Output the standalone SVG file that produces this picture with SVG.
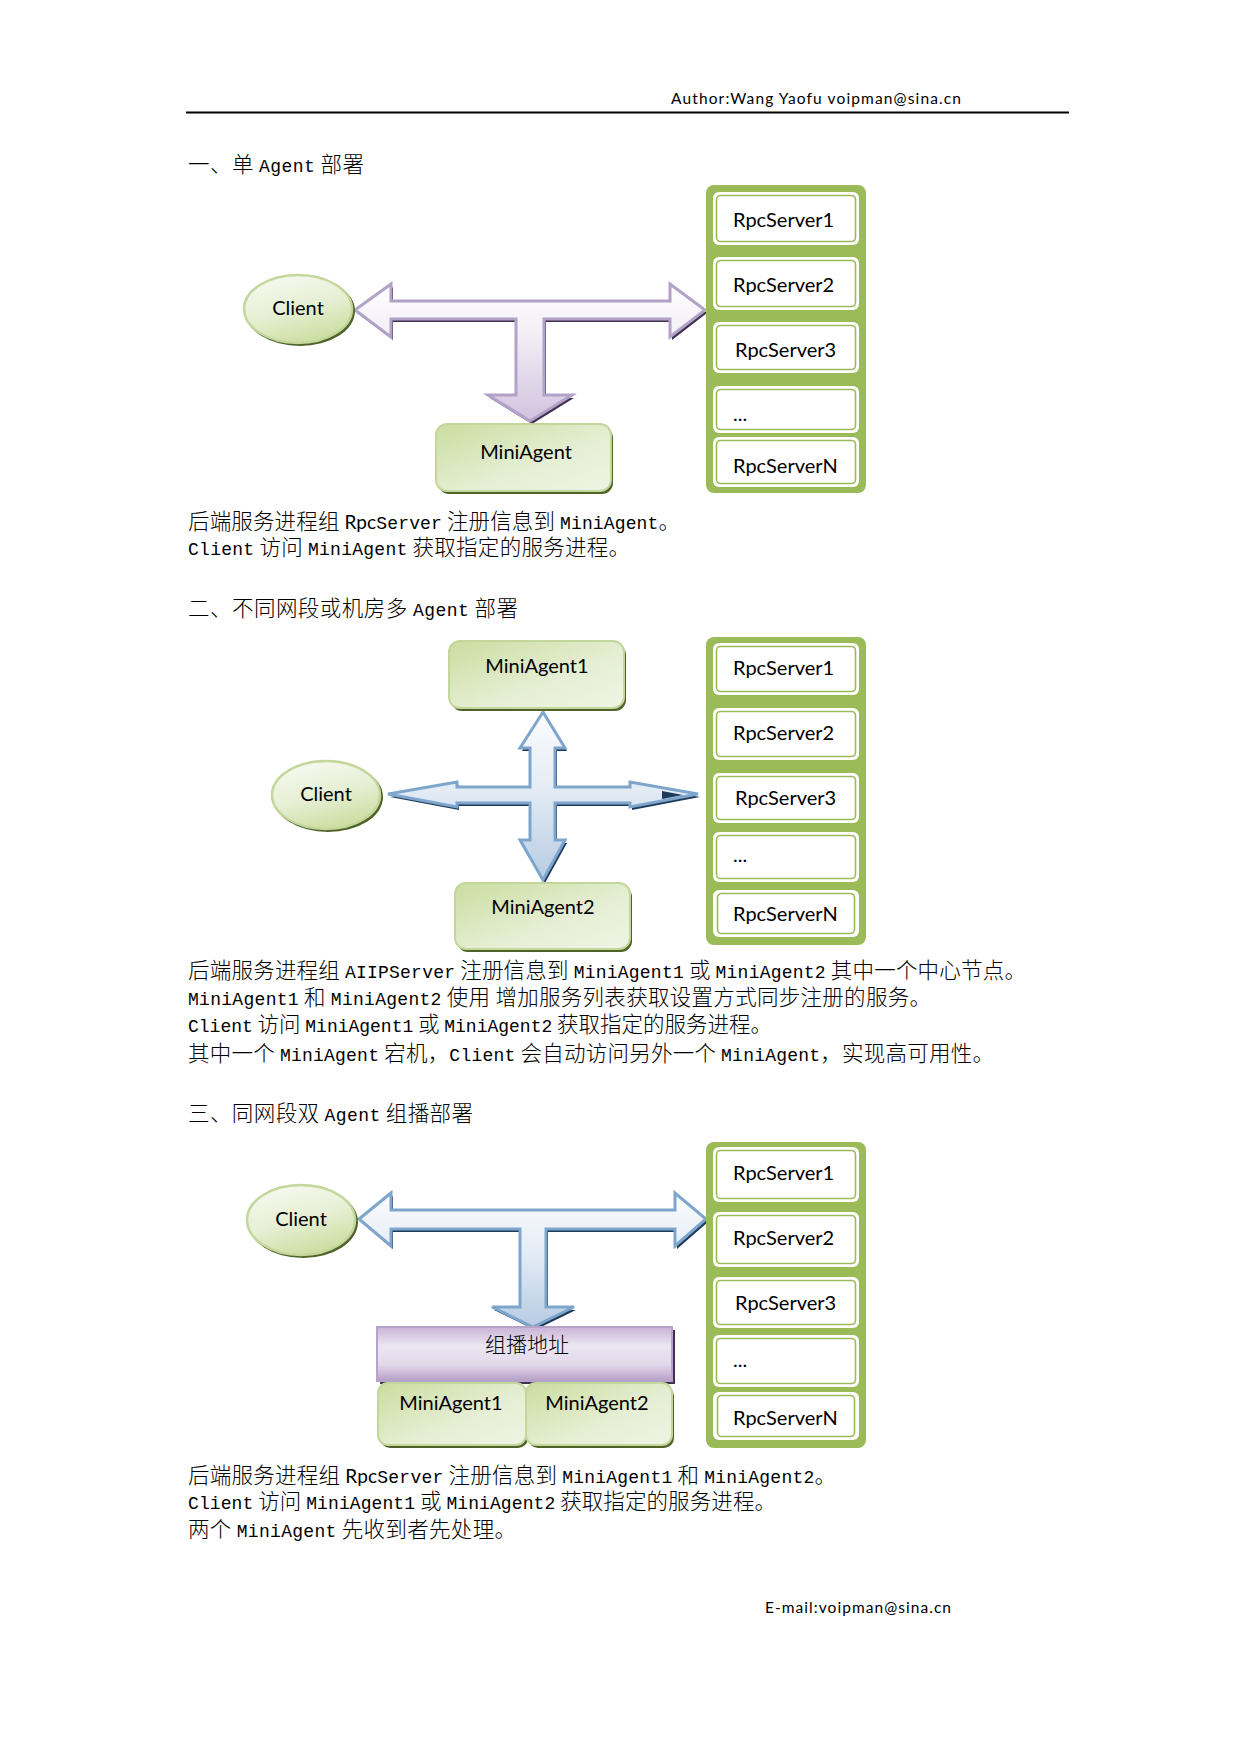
<svg xmlns="http://www.w3.org/2000/svg" width="1242" height="1755" viewBox="0 0 1242 1755">
<defs>
<style>
.lbl{font-family:Lato,"Liberation Sans",sans-serif;font-size:20px;fill:#000}
.body{font-family:"Noto Sans CJK SC",sans-serif;font-size:21.5px;font-weight:300;fill:#000}
.l{font-family:"Liberation Mono",monospace;font-size:18px;font-weight:400}
.s{font-family:Lato,"Liberation Sans",sans-serif;font-size:19px;font-weight:400}
.hdr{font-family:Lato,"Liberation Sans",sans-serif;font-size:15.5px;fill:#000}
.cjk{font-family:"Noto Sans CJK SC",sans-serif;font-size:21px;font-weight:300;fill:#000}
.col{fill:#9bbb59}
.wb{fill:#fff}
.wi{fill:none;stroke:#9bbb59;stroke-width:1.6}
.thick{fill:none;stroke:#9bbb59;stroke-width:3}
.gshadow{fill:#4f6228}
.ell{fill:url(#gEll);stroke:#c3d69b;stroke-width:2.5}
.agent{fill:url(#gAgent);stroke:#c3d69b;stroke-width:2}
.parrow{fill:url(#gPurple);stroke:#b3a2c7;stroke-width:3;stroke-linejoin:miter}
.pshadow{fill:#3f3151}
.barrow{fill:url(#gBlue);stroke:#7ea6cc;stroke-width:3;stroke-linejoin:miter}
.bshadow{fill:#1f3b5c}
.mbar{fill:url(#gBar);stroke:#b7a3ca;stroke-width:2}
</style>
<linearGradient id="gEll" x1="0.3" y1="0" x2="0.7" y2="1">
<stop offset="0" stop-color="#f6f9ef"/>
<stop offset="0.5" stop-color="#e6efd3"/>
<stop offset="1" stop-color="#c9dc9c"/>
</linearGradient>
<linearGradient id="gAgent" x1="0" y1="0" x2="1" y2="1">
<stop offset="0" stop-color="#cadd9f"/>
<stop offset="0.6" stop-color="#e6efd5"/>
<stop offset="1" stop-color="#eef4e3"/>
</linearGradient>
<linearGradient id="gPurple" x1="0" y1="0" x2="0" y2="1">
<stop offset="0" stop-color="#ffffff"/>
<stop offset="0.35" stop-color="#f3eff6"/>
<stop offset="1" stop-color="#d3c2df"/>
</linearGradient>
<linearGradient id="gBlue" x1="0" y1="0" x2="0" y2="1">
<stop offset="0" stop-color="#fbfcfe"/>
<stop offset="0.45" stop-color="#e4ecf5"/>
<stop offset="1" stop-color="#b6cbe3"/>
</linearGradient>
<linearGradient id="gBar" x1="0" y1="0" x2="0" y2="1">
<stop offset="0" stop-color="#c8b3d7"/>
<stop offset="0.35" stop-color="#ece6f1"/>
<stop offset="0.7" stop-color="#e2d8ea"/>
<stop offset="1" stop-color="#b59ec7"/>
</linearGradient>
</defs>
<rect width="1242" height="1755" fill="#fff"/>

<g id="header">
<text class="hdr" x="671" y="104" textLength="290" lengthAdjust="spacing">Author:Wang Yaofu voipman@sina.cn</text>
<line x1="186" y1="112.5" x2="1069" y2="112.5" stroke="#000" stroke-width="2.2"/>
</g>

<!-- Section 1 -->
<text class="body" x="188" y="172" textLength="176" lengthAdjust="spacing">一、单 <tspan class="l">Agent</tspan> 部署</text>

<g id="connectors">
<g id="s1-arrow">
<polygon class="pshadow" transform="translate(2,3)" points="355,310 391,284 391,301 670,301 670,284 705,310 670,337 670,319 544,319 544,395 572,395 530,421 488,395 516,395 516,319 391,319 391,337"/>
<polygon class="parrow" points="355,310 391,284 391,301 670,301 670,284 705,310 670,337 670,319 544,319 544,395 572,395 530,421 488,395 516,395 516,319 391,319 391,337"/>
</g>
<g id="s2-arrow">
<polygon class="bshadow" transform="translate(2,3)" points="388,794 457,782 457,787 530,787 530,748 520,748 543,712 565,748 555,748 555,787 630,787 630,782 698,794 630,807 630,803 555,803 555,840 565,840 543,880 520,840 530,840 530,803 457,803 457,807"/>
<polygon class="barrow" points="388,794 457,782 457,787 530,787 530,748 520,748 543,712 565,748 555,748 555,787 630,787 630,782 698,794 630,807 630,803 555,803 555,840 565,840 543,880 520,840 530,840 530,803 457,803 457,807"/>
<polygon class="bshadow" points="662,791 683,795 662,799"/>
</g>
<g id="s3-arrow">
<polygon class="bshadow" transform="translate(2,3)" points="359,1219 391,1193 391,1210 675,1210 675,1193 706,1219 675,1246 675,1229 546,1229 546,1307 574,1307 533,1327 492,1307 520,1307 520,1229 391,1229 391,1246"/>
<polygon class="barrow" points="359,1219 391,1193 391,1210 675,1210 675,1193 706,1219 675,1246 675,1229 546,1229 546,1307 574,1307 533,1327 492,1307 520,1307 520,1229 391,1229 391,1246"/>
</g>
</g>

<g id="s1-client">
<ellipse class="gshadow" cx="300" cy="311" rx="55" ry="35"/>
<ellipse class="ell" cx="298" cy="309" rx="54" ry="34"/>
<text class="lbl" x="298" y="315" text-anchor="middle">Client</text>
</g>
<g id="s1-miniagent">
<rect class="gshadow" x="438" y="427" width="175" height="67" rx="11"/>
<rect class="agent" x="436" y="424" width="175" height="67" rx="11"/>
<text class="lbl" x="526" y="459" text-anchor="middle">MiniAgent</text>
</g>
<g id="s1-servers">
<rect class="col" x="706" y="185" width="160" height="308" rx="8"/>
<g id="s1-rpc1"><rect class="wb" x="713" y="192" width="146" height="53" rx="6"/><rect class="wi" x="716.5" y="195.5" width="139" height="46" rx="4"/><text class="lbl" x="733" y="227">RpcServer1</text></g>
<g id="s1-rpc2"><rect class="wb" x="713" y="257" width="146" height="53" rx="6"/><rect class="wi" x="716.5" y="260.5" width="139" height="46" rx="4"/><text class="lbl" x="733" y="292">RpcServer2</text></g>
<g id="s1-rpc3"><rect class="wb" x="713" y="322" width="146" height="51" rx="6"/><rect class="wi" x="716.5" y="325.5" width="139" height="44" rx="4"/><text class="lbl" x="735" y="357">RpcServer3</text></g>
<g id="s1-rpc4"><rect class="wb" x="713" y="386" width="146" height="47" rx="6"/><rect class="wi" x="716.5" y="389.5" width="139" height="40" rx="4"/><text class="lbl" x="733" y="421">...</text></g>
<g id="s1-rpcN"><rect class="wb" x="713" y="437" width="146" height="50" rx="6"/><rect class="wi" x="716.5" y="440.5" width="139" height="43" rx="4"/><text class="lbl" x="733" y="473">RpcServerN</text></g>
</g>

<text class="body" x="188" y="529" textLength="492" lengthAdjust="spacing">后端服务进程组 <tspan class="s">Rpc</tspan><tspan class="l">Server</tspan> 注册信息到 <tspan class="l">MiniAgent</tspan>。</text>
<text class="body" x="188" y="555" textLength="442" lengthAdjust="spacing"><tspan class="l">Client</tspan> 访问 <tspan class="l">MiniAgent</tspan> 获取指定的服务进程。</text>

<!-- Section 2 -->
<text class="body" x="188" y="616" textLength="330" lengthAdjust="spacing">二、不同网段或机房多 <tspan class="l">Agent</tspan> 部署</text>

<g id="s2-miniagent1">
<rect class="gshadow" x="451" y="644" width="175" height="67" rx="11"/>
<rect class="agent" x="449" y="641" width="175" height="67" rx="11"/>
<text class="lbl" x="537" y="673" text-anchor="middle">MiniAgent1</text>
</g>
<g id="s2-client">
<ellipse class="gshadow" cx="328" cy="797" rx="55" ry="35"/>
<ellipse class="ell" cx="326" cy="795" rx="54" ry="34"/>
<text class="lbl" x="326" y="801" text-anchor="middle">Client</text>
</g>
<g id="s2-miniagent2">
<rect class="gshadow" x="457" y="886" width="175" height="66" rx="11"/>
<rect class="agent" x="455" y="883" width="175" height="66" rx="11"/>
<text class="lbl" x="543" y="914" text-anchor="middle">MiniAgent2</text>
</g>
<g id="s2-servers">
<rect class="col" x="706" y="637" width="160" height="308" rx="8"/>
<g id="s2-rpc1"><rect class="wb" x="713" y="643" width="146" height="52" rx="6"/><rect class="wi" x="716.5" y="646.5" width="139" height="45" rx="4"/><text class="lbl" x="733" y="675">RpcServer1</text></g>
<g id="s2-rpc2"><rect class="wb" x="713" y="708" width="146" height="52" rx="6"/><rect class="wi" x="716.5" y="711.5" width="139" height="45" rx="4"/><text class="lbl" x="733" y="740">RpcServer2</text></g>
<g id="s2-rpc3"><rect class="wb" x="713" y="773" width="146" height="50" rx="6"/><rect class="wi" x="716.5" y="776.5" width="139" height="43" rx="4"/><text class="lbl" x="735" y="805">RpcServer3</text></g>
<g id="s2-rpc4"><rect class="wb" x="713" y="832" width="146" height="50" rx="6"/><rect class="wi" x="716.5" y="835.5" width="139" height="43" rx="4"/><text class="lbl" x="733" y="862">...</text></g>
<g id="s2-rpcN"><rect class="wb" x="713" y="890" width="146" height="47" rx="6"/><rect class="thick" x="711" y="888" width="150" height="51" rx="7"/><rect class="wi" x="717.5" y="893.5" width="137" height="40" rx="4"/><text class="lbl" x="733" y="921">RpcServerN</text></g>
</g>

<text class="body" x="188" y="978" textLength="838" lengthAdjust="spacing">后端服务进程组 <tspan class="l">AIIPServer</tspan> 注册信息到 <tspan class="l">MiniAgent1</tspan> 或 <tspan class="l">MiniAgent2</tspan> 其中一个中心节点。</text>
<text class="body" x="188" y="1005" textLength="743" lengthAdjust="spacing"><tspan class="l">MiniAgent1</tspan> 和 <tspan class="l">MiniAgent2</tspan> 使用 增加服务列表获取设置方式同步注册的服务。</text>
<text class="body" x="188" y="1032" textLength="584" lengthAdjust="spacing"><tspan class="l">Client</tspan> 访问 <tspan class="l">MiniAgent1</tspan> 或 <tspan class="l">MiniAgent2</tspan> 获取指定的服务进程。</text>
<text class="body" x="188" y="1061" textLength="806" lengthAdjust="spacing">其中一个 <tspan class="l">MiniAgent</tspan> 宕机，<tspan class="l">Client</tspan> 会自动访问另外一个 <tspan class="l">MiniAgent</tspan>，实现高可用性。</text>

<!-- Section 3 -->
<text class="body" x="188" y="1121" textLength="285" lengthAdjust="spacing">三、同网段双 <tspan class="l">Agent</tspan> 组播部署</text>

<g id="s3-client">
<ellipse class="gshadow" cx="303" cy="1222" rx="55" ry="36"/>
<ellipse class="ell" cx="301" cy="1220" rx="54" ry="35"/>
<text class="lbl" x="301" y="1226" text-anchor="middle">Client</text>
</g>
<g id="s3-multicast">
<rect class="pshadow" x="380" y="1330" width="295" height="54"/>
<rect class="mbar" x="377" y="1327" width="295" height="54"/>
<text class="cjk" x="527" y="1352" text-anchor="middle">组播地址</text>
</g>
<g id="s3-miniagent1">
<rect class="gshadow" x="380" y="1386" width="148" height="62" rx="10"/>
<rect class="agent" x="378" y="1383" width="148" height="62" rx="10"/>
<text class="lbl" x="451" y="1410" text-anchor="middle">MiniAgent1</text>
</g>
<g id="s3-miniagent2">
<rect class="gshadow" x="528" y="1386" width="146" height="62" rx="10"/>
<rect class="agent" x="526" y="1383" width="146" height="62" rx="10"/>
<text class="lbl" x="597" y="1410" text-anchor="middle">MiniAgent2</text>
</g>
<g id="s3-servers">
<rect class="col" x="706" y="1142" width="160" height="306" rx="8"/>
<g id="s3-rpc1"><rect class="wb" x="713" y="1147" width="146" height="55" rx="6"/><rect class="wi" x="716.5" y="1150.5" width="139" height="48" rx="4"/><text class="lbl" x="733" y="1180">RpcServer1</text></g>
<g id="s3-rpc2"><rect class="wb" x="713" y="1212" width="146" height="55" rx="6"/><rect class="wi" x="716.5" y="1215.5" width="139" height="48" rx="4"/><text class="lbl" x="733" y="1245">RpcServer2</text></g>
<g id="s3-rpc3"><rect class="wb" x="713" y="1277" width="146" height="51" rx="6"/><rect class="wi" x="716.5" y="1280.5" width="139" height="44" rx="4"/><text class="lbl" x="735" y="1310">RpcServer3</text></g>
<g id="s3-rpc4"><rect class="wb" x="713" y="1335" width="146" height="52" rx="6"/><rect class="wi" x="716.5" y="1338.5" width="139" height="45" rx="4"/><text class="lbl" x="733" y="1367">...</text></g>
<g id="s3-rpcN"><rect class="wb" x="713" y="1392" width="146" height="48" rx="6"/><rect class="thick" x="711" y="1390" width="150" height="52" rx="7"/><rect class="wi" x="717.5" y="1395.5" width="137" height="41" rx="4"/><text class="lbl" x="733" y="1425">RpcServerN</text></g>
</g>

<text class="body" x="188" y="1483" textLength="648" lengthAdjust="spacing">后端服务进程组 <tspan class="s">Rpc</tspan><tspan class="l">Server</tspan> 注册信息到 <tspan class="l">MiniAgent1</tspan> 和 <tspan class="l">MiniAgent2</tspan>。</text>
<text class="body" x="188" y="1509" textLength="588" lengthAdjust="spacing"><tspan class="l">Client</tspan> 访问 <tspan class="l">MiniAgent1</tspan> 或 <tspan class="l">MiniAgent2</tspan> 获取指定的服务进程。</text>
<text class="body" x="188" y="1537" textLength="328" lengthAdjust="spacing">两个 <tspan class="l">MiniAgent</tspan> 先收到者先处理。</text>

<g id="footer">
<text class="hdr" x="765" y="1613" textLength="186" lengthAdjust="spacing">E-mail:voipman@sina.cn</text>
</g>
</svg>
